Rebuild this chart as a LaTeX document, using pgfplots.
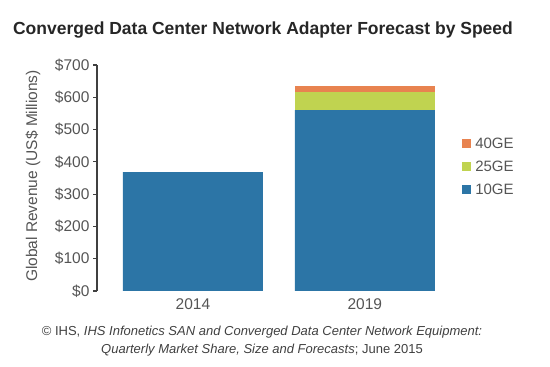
\documentclass[border=0pt]{standalone}
\usepackage{fontspec}
\setmainfont{Liberation Sans}
\usepackage{pgfplots}
\pgfplotsset{compat=1.18}
\definecolor{c10}{RGB}{44,117,166}
\definecolor{c25}{RGB}{192,211,80}
\definecolor{c40}{RGB}{232,131,80}
\definecolor{txt}{RGB}{85,85,85}
\begin{document}
\begin{tikzpicture}
\useasboundingbox (0,0) rectangle (550bp,367bp);
\node[font=\fontsize{17.5bp}{20bp}\selectfont\bfseries, text=black!85] at (263bp,337bp) {Converged Data Center Network Adapter Forecast by Speed};
\begin{axis}[
  at={(97bp,76bp)}, anchor=south west, scale only axis,
  width=371bp, height=226bp,
  ybar stacked, bar width=0.814,
  xmin=-0.558, xmax=1.6, ymin=0, ymax=700,
  axis x line*=bottom, axis y line*=left,
  x axis line style={draw=none},
  y axis line style={draw=black!75, line width=1.3pt, -},
  xtick={0,1}, xticklabels={2014,2019},
  major x tick style={draw=none},
  ytick={0,100,...,700},
  yticklabel={\$\pgfmathprintnumber{\tick}},
  tick align=outside, major tick length=4bp,
  major y tick style={draw=black!75, line width=1.1pt},
  tick label style={font=\fontsize{15.5bp}{18bp}\selectfont, text=txt},
  /pgf/number format/assume math mode=true,
  legend style={draw=none, fill=none, anchor=west, at={(0.976,0.549)},
    font=\fontsize{15bp}{17bp}\selectfont, text=txt, row sep=7bp,
    legend cell align=left,
    /tikz/every odd column/.append style={column sep=2bp}},
  legend image code/.code={\fill[#1] (0bp,-4.5bp) rectangle (9bp,4.5bp);},
  reverse legend,
]
\addplot[fill=c10, draw=none] coordinates {(0,368) (1,560)};
\addplot[fill=c25, draw=none] coordinates {(0,0) (1,57)};
\addplot[fill=c40, draw=none] coordinates {(0,0) (1,18)};
\legend{10GE,25GE,40GE}
\end{axis}
\node[rotate=90, font=\fontsize{15.5bp}{18bp}\selectfont, text=txt] at (33bp,191bp) {Global Revenue (US\$ Millions)};
\node[font=\fontsize{13bp}{15bp}\selectfont, text=black!75] at (262bp,35bp) {© IHS, \textit{IHS Infonetics SAN and Converged Data Center Network Equipment:}};
\node[font=\fontsize{13bp}{15bp}\selectfont, text=black!75] at (262bp,17bp) {\textit{Quarterly Market Share, Size and Forecasts}; June 2015};
\end{tikzpicture}
\end{document}
